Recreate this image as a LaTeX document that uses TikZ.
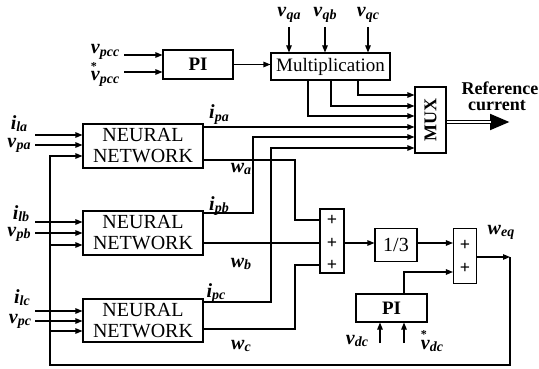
\documentclass[tikz,border=0pt]{standalone}
\usepackage{fontspec}
\setmainfont{Liberation Serif}
\usetikzlibrary{arrows.meta}
\newcommand\sbx[1]{\raisebox{-0.32ex}{\fontsize{14}{14}\selectfont\textbf{\textit{#1}}}}
\newcommand\lb[2]{\textbf{\textit{#1}}\sbx{#2}}
\newcommand\lbs[2]{\textbf{\textit{#1}}\makebox[0pt][r]{\raisebox{1.1ex}{\fontsize{12}{12}\selectfont\textbf{*}}\kern3pt}\sbx{#2}}
\begin{document}
\begin{tikzpicture}[x=1pt,y=-1pt, line width=1.1pt,
 blk/.style={draw, inner sep=0pt, align=center, font=\fontsize{20}{21}\selectfont},
 lbl/.style={inner sep=0pt, anchor=base, font=\fontsize{20}{20}\selectfont},
 plus/.style={inner sep=0pt, font=\fontsize{18}{18}\selectfont\bfseries},
 arr/.style={-{Triangle[length=7pt,width=5.5pt]}},
]
\useasboundingbox (0,0) rectangle (539,369);

% blocks
\node[blk, minimum width=70pt, minimum height=29pt, font=\fontsize{19}{21}\selectfont\bfseries] (pi1) at (198,64.5) {PI};
\node[blk, minimum width=119pt, minimum height=27pt, font=\fontsize{19}{21}\selectfont] (mult) at (330.5,66.5) {Multiplication};
\node[blk, minimum width=31pt, minimum height=66pt] (mux) at (430.5,120) {};
\node[inner sep=0pt, rotate=90, font=\fontsize{18}{18}\selectfont\bfseries] (muxt) at (mux.center) {MUX};
\node[blk, minimum width=120pt, minimum height=44pt] (nn1) at (143,146) {NEURAL\\NETWORK};
\node[blk, minimum width=120pt, minimum height=44pt] (nn2) at (143,233) {NEURAL\\NETWORK};
\node[blk, minimum width=120pt, minimum height=43pt] (nn3) at (143,320.5) {NEURAL\\NETWORK};
\node[blk, minimum width=24pt, minimum height=64pt] (add1) at (332,241) {};
\node[plus] (p11) at (332,220) {+};
\node[plus] (p12) at (332,243) {+};
\node[plus] (p13) at (332,265) {+};
\node[blk, minimum width=42pt, minimum height=33pt] (third) at (396,245) {1/3};
\node[blk, minimum width=23pt, minimum height=55pt] (add2) at (465,256) {};
\node[plus] (p21) at (465,245) {+};
\node[plus] (p22) at (465,268) {+};
\node[blk, minimum width=71pt, minimum height=28pt, font=\fontsize{19}{21}\selectfont\bfseries] (pi2) at (391.5,308) {PI};

% labels
\node[lbl] (lvpcc) at (105,54) {\lb{v}{pcc}};
\node[lbl] (lvpccs) at (105,81) {\lbs{v}{pcc}};
\node[lbl] (lvqa) at (289,17) {\lb{v}{qa}};
\node[lbl] (lvqb) at (325,17) {\lb{v}{qb}};
\node[lbl] (lvqc) at (368,17) {\lb{v}{qc}};
\node[lbl] (lila) at (19,129) {\lb{i}{la}};
\node[lbl] (lvpa) at (19,147) {\lb{v}{pa}};
\node[lbl] (lilb) at (21,219) {\lb{i}{lb}};
\node[lbl] (lvpb) at (19,236) {\lb{v}{pb}};
\node[lbl] (lilc) at (22,303) {\lb{i}{lc}};
\node[lbl] (lvpc) at (20,323) {\lb{v}{pc}};
\node[lbl] (lipa) at (219,119) {\lb{i}{pa}};
\node[lbl] (lwa) at (241,172) {\lb{w}{a}};
\node[lbl] (lipb) at (219,210) {\lb{i}{pb}};
\node[lbl] (lwb) at (241,267) {\lb{w}{b}};
\node[lbl] (lipc) at (216,297) {\lb{i}{pc}};
\node[lbl] (lwc) at (241,349) {\lb{w}{c}};
\node[lbl] (lweq) at (501,234) {\lb{w}{eq}};
\node[lbl] (lvdc) at (357,344) {\lb{v}{dc}};
\node[lbl] (lvdcs) at (432,349) {\lbs{v}{dc}};
\node[inner sep=0pt, anchor=base, font=\fontsize{18}{18}\selectfont\bfseries] (lref) at (500,95) {Reference};
\node[inner sep=0pt, anchor=base, font=\fontsize{18}{18}\selectfont\bfseries] (lcur) at (497,111) {current};

% PI inputs
\coordinate (s1) at (124,55);
\coordinate (s2) at (124,72);
\draw[arr] (s1) -- (s1 -| pi1.west);
\draw[arr] (s2) -- (s2 -| pi1.west);
\draw[arr] (pi1.east) -- (pi1.east -| mult.west);

% vq inputs
\coordinate (qa) at (289,27);
\coordinate (qb) at (325,27);
\coordinate (qc) at (368,27);
\draw[arr] (qa) -- (qa |- mult.north);
\draw[arr] (qb) -- (qb |- mult.north);
\draw[arr] (qc) -- (qc |- mult.north);

% mult -> mux
\draw[arr] (mult.south -| 308,0) |- (mux.west |- 0,116);
\draw[arr] (mult.south -| 331,0) |- (mux.west |- 0,106);
\draw[arr] (mult.south -| 358,0) |- (mux.west |- 0,95);

% NN -> mux
\draw[arr] (nn1.east |- 0,127) -- (mux.west |- 0,127);
\draw[arr] (nn2.east |- 0,213) -| (253,137) -- (mux.west |- 0,137);
\draw[arr] (nn3.east |- 0,302) -| (271,148) -- (mux.west |- 0,148);

% NN -> add1
\draw (nn1.east |- 0,160) -| (295,220) -- (add1.west |- 0,220);
\draw (nn2.east |- 0,243) -- (add1.west |- 0,243);
\draw (nn3.east |- 0,329) -| (295,265) -- (add1.west |- 0,265);

% chain
\draw[arr] (add1.east |- 0,243) -- (third.west |- 0,243);
\draw[arr] (third.east |- 0,243) -- (add2.west |- 0,243);
\draw[arr] (pi2.north -| 404,0) |- (add2.west |- 0,272);

% vdc inputs
\coordinate (d1) at (380,343);
\coordinate (d2) at (404,343);
\draw[arr] (d1) -- (d1 |- pi2.south);
\draw[arr] (d2) -- (d2 |- pi2.south);

% output / feedback
\coordinate (fb) at (510,257);
\draw[arr] (add2.east |- fb) -- (fb);
\draw[arr] (fb) -- (510,365) -| (50,156) -- (nn1.west |- 0,156);
\draw[arr] (50,245) -- (nn2.west |- 0,245);
\draw[arr] (50,331) -- (nn3.west |- 0,331);

% NN inputs
\coordinate (a1) at (35,135);
\coordinate (a2) at (35,145);
\coordinate (b1) at (35,222);
\coordinate (b2) at (35,233);
\coordinate (c1) at (35,311);
\coordinate (c2) at (35,321);
\draw[arr] (a1) -- (a1 -| nn1.west);
\draw[arr] (a2) -- (a2 -| nn1.west);
\draw[arr] (b1) -- (b1 -| nn2.west);
\draw[arr] (b2) -- (b2 -| nn2.west);
\draw[arr] (c1) -- (c1 -| nn3.west);
\draw[arr] (c2) -- (c2 -| nn3.west);

% reference current output
\coordinate (ref) at (510,122);
\draw[line width=4.6pt, -{Triangle[length=20pt,width=15pt]}] (mux.east |- ref) -- (ref);
\draw[white, line width=2.2pt] (mux.east |- ref) ++(0.6,0) -- (491,122);
\end{tikzpicture}
\end{document}
